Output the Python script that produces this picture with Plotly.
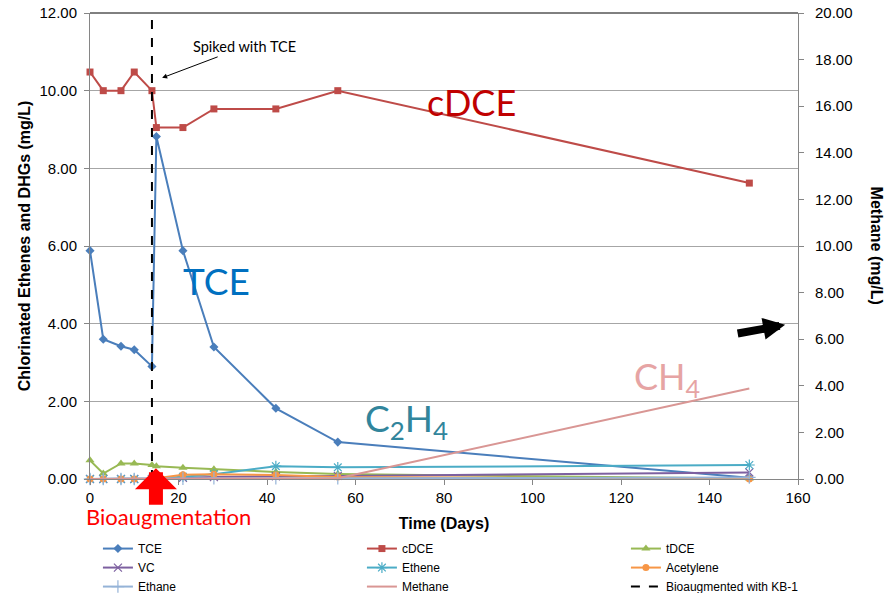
import plotly.graph_objects as go

days = [0, 3, 7, 10, 14, 15, 21, 28, 42, 56, 149]
tce = [5.88, 3.60, 3.42, 3.33, 2.90, 8.82, 5.88, 3.40, 1.82, 0.95, 0.03]
cdce = [10.48, 10.00, 10.00, 10.48, 10.00, 9.05, 9.05, 9.53, 9.53, 10.00, 7.62]
tdce = [0.48, 0.14, 0.40, 0.40, 0.36, 0.33, 0.29, 0.25, 0.18, 0.13, 0.01]
vc = [0.0, 0.0, 0.0, 0.0, 0.0, 0.01, 0.03, 0.05, 0.07, 0.08, 0.17]
ethene = [0.0, 0.0, 0.0, 0.0, 0.0, 0.01, 0.06, 0.12, 0.33, 0.30, 0.36]
acetylene = [0.0, 0.0, 0.0, 0.0, 0.0, 0.02, 0.11, 0.12, 0.10, 0.05, 0.0]
ethane = [0.0, 0.0, 0.0, 0.0, 0.0, 0.0, 0.01, 0.02, 0.02, 0.02, 0.04]
methane = [0.0, 0.0, 0.0, 0.0, 0.0, 0.0, 0.01, 0.02, 0.02, 0.03, 3.88]
bioaug_day = [14, 14]
bioaug_y = [0, 12]

FONT = "Liberation Sans, Arial, sans-serif"
fig = go.Figure()

def add(name, y, color, symbol, size=7, lw=2, yaxis="y", mode="lines+markers", mline=0):
    fig.add_trace(go.Scatter(
        x=days, y=y, name=name, mode=mode, yaxis=yaxis, cliponaxis=False,
        line=dict(color=color, width=lw),
        marker=dict(symbol=symbol, size=size, color=color,
                    line=dict(color=color, width=mline)),
    ))

add("TCE", tce, "#4A7EBB", "diamond", 7)
add("cDCE", cdce, "#BE4B48", "square", 7)
add("tDCE", tdce, "#98B954", "triangle-up", 8)
add("VC", vc, "#7D60A0", "x-thin", 8, mline=1.2)
add("Ethene", ethene, "#4BACC6", "asterisk", 9, mline=1.2)
add("Acetylene", acetylene, "#F79646", "circle", 7)
add("Ethane", ethane, "#95B3D7", "cross-thin", 9, mline=1.2)
fig.add_trace(go.Scatter(x=days, y=methane, name="Methane", mode="lines", yaxis="y2",
                         cliponaxis=False, line=dict(color="#D99694", width=2)))
fig.add_trace(go.Scatter(x=bioaug_day, y=bioaug_y, name="Bioaugmented with KB-1", mode="lines",
                         line=dict(color="black", width=2, dash="dash")))

fig.update_layout(
    width=896, height=593,
    margin=dict(l=90, r=98, t=13, b=114, autoexpand=False),
    paper_bgcolor="white", plot_bgcolor="white",
    font=dict(family=FONT, size=15, color="black"),
    showlegend=True,
    legend=dict(orientation="h", x=-0.0001, xanchor="left", y=-0.101, yanchor="top",
                entrywidth=219, entrywidthmode="pixels", font=dict(size=12, family=FONT),
                borderwidth=8, bordercolor="rgba(0,0,0,0)",
                tracegroupgap=0, itemwidth=30, bgcolor="rgba(0,0,0,0)"),
    xaxis=dict(range=[0, 160], dtick=20, tickformat="d", showgrid=False, zeroline=False,
               showline=True, linecolor="#868686", linewidth=1,
               ticks="outside", ticklen=5, tickcolor="#868686",
               title=dict(text="<b>Time (Days)</b>", font=dict(size=16), standoff=12)),
    yaxis=dict(range=[0, 12], dtick=2, tickformat=".2f", showgrid=True, gridcolor="#A6A6A6",
               gridwidth=1, zeroline=False, showline=True, linecolor="#868686", linewidth=1,
               ticks="outside", ticklen=5, tickcolor="#868686", ticklabelstandoff=4,
               title=dict(text="<b>Chlorinated Ethenes and DHGs (mg/L)</b>", font=dict(size=16),
                          standoff=4)),
    yaxis2=dict(range=[0, 20], dtick=2, tickformat=".2f", overlaying="y", side="right",
                showgrid=False, zeroline=False, showline=True, linecolor="#868686", linewidth=1,
                ticks="outside", ticklen=5, tickcolor="#868686", ticklabelstandoff=8),
)

# top border
fig.add_shape(type="line", xref="paper", yref="paper", x0=0, x1=1, y0=1, y1=1,
              line=dict(color="black", width=1))

ann_font = "Lato, Open Sans, sans-serif"
fig.add_annotation(text="<b>Methane (mg/L)</b>", xref="paper", yref="paper", x=1.127, y=0.5,
                   textangle=90, showarrow=False, font=dict(size=16, family=FONT))
fig.add_annotation(text="Spiked with TCE", x=16.3, y=10.33, xref="x", yref="y", ax=82, ay=-31,
                   showarrow=True, arrowhead=2, arrowsize=1, arrowwidth=1, arrowcolor="black",
                   standoff=0, font=dict(size=14.5, family=ann_font))
fig.add_annotation(text="cDCE", x=86.3, y=9.7, showarrow=False,
                   font=dict(size=36, family=ann_font, color="#C00000"))
fig.add_annotation(text="TCE", x=28.5, y=5.1, showarrow=False,
                   font=dict(size=37, family=ann_font, color="#0070C0"))
fig.add_annotation(text="C<sub>2</sub>H<sub>4</sub>", x=71.5, y=1.5, showarrow=False,
                   font=dict(size=37, family=ann_font, color="#31859C"))
fig.add_annotation(text="CH<sub>4</sub>", x=130.5, y=2.6, showarrow=False,
                   font=dict(size=36, family=ann_font, color="#E6A4A4"))
fig.add_annotation(text="Bioaugmentation", xref="paper", yref="paper", x=-0.009, xanchor="left",
                   y=-0.081, yanchor="middle", showarrow=False,
                   font=dict(size=22, family=ann_font, color="#FF0000"))
# red up arrow
fig.add_annotation(text="", x=14.9, y=0.28, ax=0, ay=38, showarrow=True, arrowhead=1,
                   arrowsize=0.5, arrowwidth=14, arrowcolor="#FF0000", standoff=0)
# black arrow to right axis
fig.add_annotation(text="", x=157.1, y=3.97, ax=-49, ay=9, showarrow=True, arrowhead=2,
                   arrowsize=0.55, arrowwidth=8, arrowcolor="black", standoff=0)

fig.write_html("out.html")
